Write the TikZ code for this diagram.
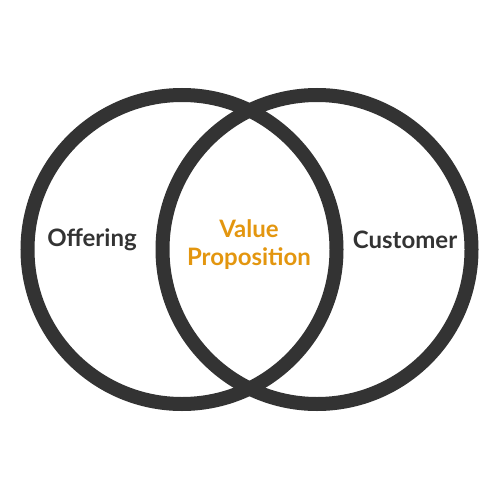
\documentclass[tikz,border=0pt]{standalone}
\usepackage{fontspec}
\setmainfont{Lato}
\definecolor{ringgray}{HTML}{333333}
\definecolor{valorange}{HTML}{E3960F}
\tikzset{
  ring/.style={circle, draw=ringgray, line width=14pt, minimum size=309pt, inner sep=0pt},
  lbl/.style={font=\fontsize{24}{28}\selectfont\bfseries, text=ringgray, align=center},
  vlbl/.style={font=\fontsize{24}{28}\selectfont\bfseries, text=valorange, align=center}
}
\begin{document}
\begin{tikzpicture}[x=1pt,y=-1pt]
\useasboundingbox (0,0) rectangle (500,500);
\node[ring] (left) at (182,249.5) {};
\node[ring] (right) at (317,249.5) {};
\node[lbl] (offering) at (92,240) {Offering};
\node[vlbl] (value) at (249,245) {Value\\Proposition};
\node[lbl] (customer) at (405,240) {Customer};
\end{tikzpicture}
\end{document}
